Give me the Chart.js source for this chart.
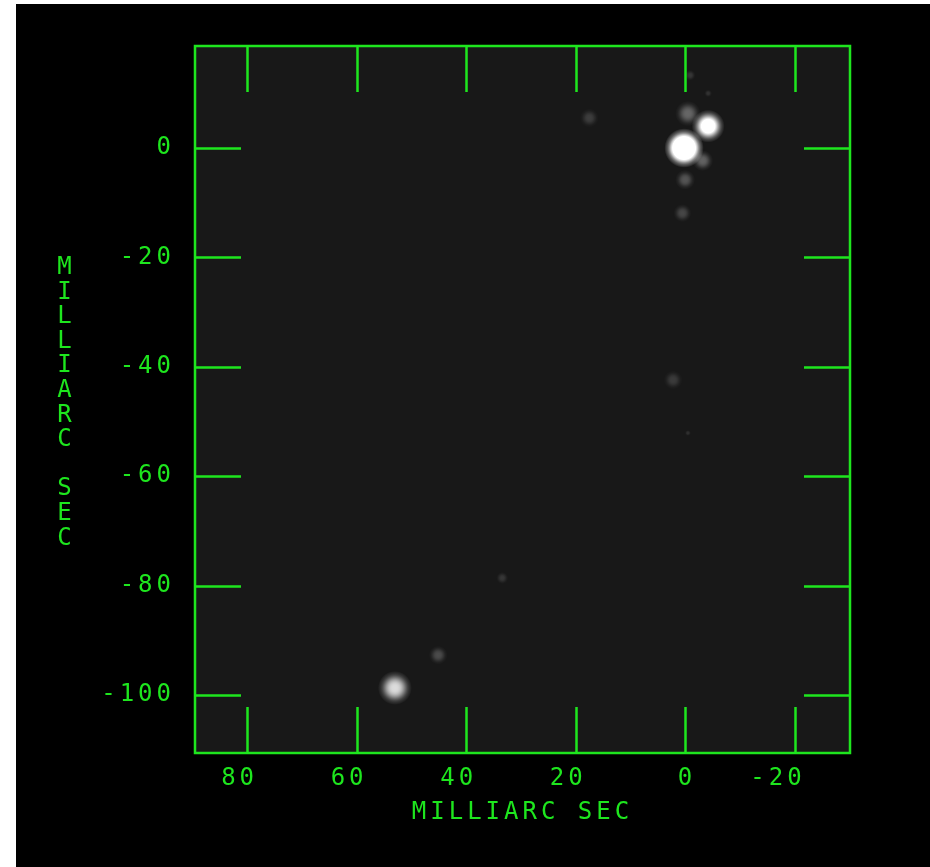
<!DOCTYPE html>
<html>
<head>
<meta charset="utf-8">
<script src="https://cdn.jsdelivr.net/npm/chart.js@4/dist/chart.umd.min.js"></script>
<style>
  html, body { margin: 0; padding: 0; background: #fff; }
  #wrap { position: absolute; left: 16px; top: 4px; width: 914px; height: 863px; background: #000; }
</style>
</head>
<body>
<div id="wrap"><canvas id="map"></canvas></div>
<script>
// component positions (milliarcsec offsets), peak brightness and extent
var raOffsets  = [17.5, -0.9, -4.2, -0.5, -3.2, 0.0, 0.5, 2.2, -0.5, 33.4, 45.1, 53.0, -4.2, 0.2];
var decOffsets = [5.5, 13.3, 10.0, 6.3, -2.3, -5.8, -11.9, -42.4, -52.1, -78.6, -92.7, -98.7, 4.0, 0.0];
var peakLevel  = [0.16, 0.13, 0.11, 0.34, 0.32, 0.26, 0.2, 0.15, 0.1, 0.13, 0.22, 0.85, 1.3, 2.2];
var sizeMas    = [1.7, 1.0, 0.7, 2.3, 1.9, 1.8, 1.65, 1.7, 0.55, 1.1, 1.7, 3.1, 3.0, 3.6];

var xTickValues = [80, 60, 40, 20, 0, -20];
var yTickValues = [0, -20, -40, -60, -80, -100];

var GREEN = '#1ee61e';
var FONT = { family: 'DejaVu Sans Mono', size: 24 };

function pxPerMas(chart) {
    var sx = chart.scales.x;
    if (!sx) return NaN;
    return Math.abs(sx.getPixelForValue(1) - sx.getPixelForValue(0));
}

function blobRadius(c) {
    var k = pxPerMas(c.chart);
    var r = sizeMas[c.dataIndex] * k;
    return isFinite(r) ? r : 0;
}

function blobFill(c) {
    var chart = c.chart;
    var i = c.dataIndex;
    var r = blobRadius(c);
    var sx = chart.scales.x, sy = chart.scales.y;
    if (!sx || !sy || !r) return 'rgba(255,255,255,0)';
    var px = sx.getPixelForValue(raOffsets[i]);
    var py = sy.getPixelForValue(decOffsets[i]);
    if (!isFinite(px) || !isFinite(py)) return 'rgba(255,255,255,0)';
    var g = chart.ctx.createRadialGradient(px, py, 0, px, py, r);
    for (var s = 0; s <= 12; s++) {
        var t = s / 12;
        var a = Math.min(1, peakLevel[i] * Math.exp(-3.5 * t * t * t));
        if (s === 12) a = 0;
        g.addColorStop(t, 'rgba(255,255,255,' + a.toFixed(3) + ')');
    }
    return g;
}

var framePlugin = {
    id: 'frame',
    beforeLayout: function (chart) { chart.ctx.letterSpacing = '4px'; },
    beforeDraw: function (chart) {
        var ctx = chart.ctx, a = chart.chartArea;
        ctx.letterSpacing = '4px';
        ctx.save();
        ctx.fillStyle = '#181818';
        ctx.fillRect(a.left, a.top, a.right - a.left, a.bottom - a.top);
        ctx.restore();
    },
    afterDatasetsDraw: function (chart) {
        var ctx = chart.ctx, a = chart.chartArea;
        var sx = chart.scales.x, sy = chart.scales.y;
        var len = 46;
        ctx.save();
        ctx.strokeStyle = GREEN;
        ctx.lineWidth = 2.5;
        ctx.strokeRect(a.left, a.top, a.right - a.left, a.bottom - a.top);
        ctx.beginPath();
        xTickValues.forEach(function (v) {
            var p = Math.round(sx.getPixelForValue(v)) + 0.5;
            ctx.moveTo(p, a.top); ctx.lineTo(p, a.top + len);
            ctx.moveTo(p, a.bottom); ctx.lineTo(p, a.bottom - len);
        });
        yTickValues.forEach(function (v) {
            var p = Math.round(sy.getPixelForValue(v)) + 0.5;
            ctx.moveTo(a.left, p); ctx.lineTo(a.left + len, p);
            ctx.moveTo(a.right, p); ctx.lineTo(a.right - len, p);
        });
        ctx.stroke();

        // stacked y axis title
        var title = 'MILLIARC SEC';
        ctx.letterSpacing = '0px';
        ctx.fillStyle = GREEN;
        ctx.font = FONT.size + 'px "' + FONT.family + '"';
        ctx.textAlign = 'center';
        ctx.textBaseline = 'middle';
        var cy = (a.top + a.bottom) / 2 + 3.5;
        for (var i = 0; i < title.length; i++) {
            ctx.fillText(title[i], 48.5, cy + (i - (title.length - 1) / 2) * 24.6);
        }
        ctx.restore();
        ctx.letterSpacing = '4px';
    }
};

new Chart(document.getElementById('map'), {
    type: 'scatter',
    data: {
        datasets: [{
            data: raOffsets.map(function (x, i) { return { x: x, y: decOffsets[i] }; }),
            pointRadius: blobRadius,
            pointHoverRadius: blobRadius,
            pointBackgroundColor: blobFill,
            pointHoverBackgroundColor: blobFill,
            pointBorderWidth: 0,
            pointHoverBorderWidth: 0
        }]
    },
    options: {
        responsive: true,
        maintainAspectRatio: false,
        animation: false,
        events: [],
        layout: { padding: { top: 42, right: 80, bottom: 0, left: 0 }, autoPadding: false },
        plugins: { legend: { display: false }, tooltip: { enabled: false } },
        scales: {
            x: {
                type: 'linear',
                reverse: true,
                min: -30.1,
                max: 89.5,
                grid: { display: false },
                border: { display: false },
                afterBuildTicks: function (s) { s.ticks = xTickValues.map(function (v) { return { value: v }; }); },
                afterFit: function (s) { s.height = 114; },
                ticks: { color: GREEN, font: FONT, padding: 3, align: 'end', labelOffset: 11, autoSkip: false, maxRotation: 0 },
                title: { display: true, text: 'MILLIARC SEC', color: GREEN, font: FONT, padding: { top: 0, bottom: 40 } }
            },
            y: {
                type: 'linear',
                min: -110.6,
                max: 18.65,
                grid: { display: false },
                border: { display: false },
                afterBuildTicks: function (s) { s.ticks = yTickValues.map(function (v) { return { value: v }; }); },
                afterFit: function (s) { s.width = 179; },
                ticks: { color: GREEN, font: FONT, padding: 12, autoSkip: false }
            }
        }
    },
    plugins: [framePlugin]
});
</script>
</body>
</html>
